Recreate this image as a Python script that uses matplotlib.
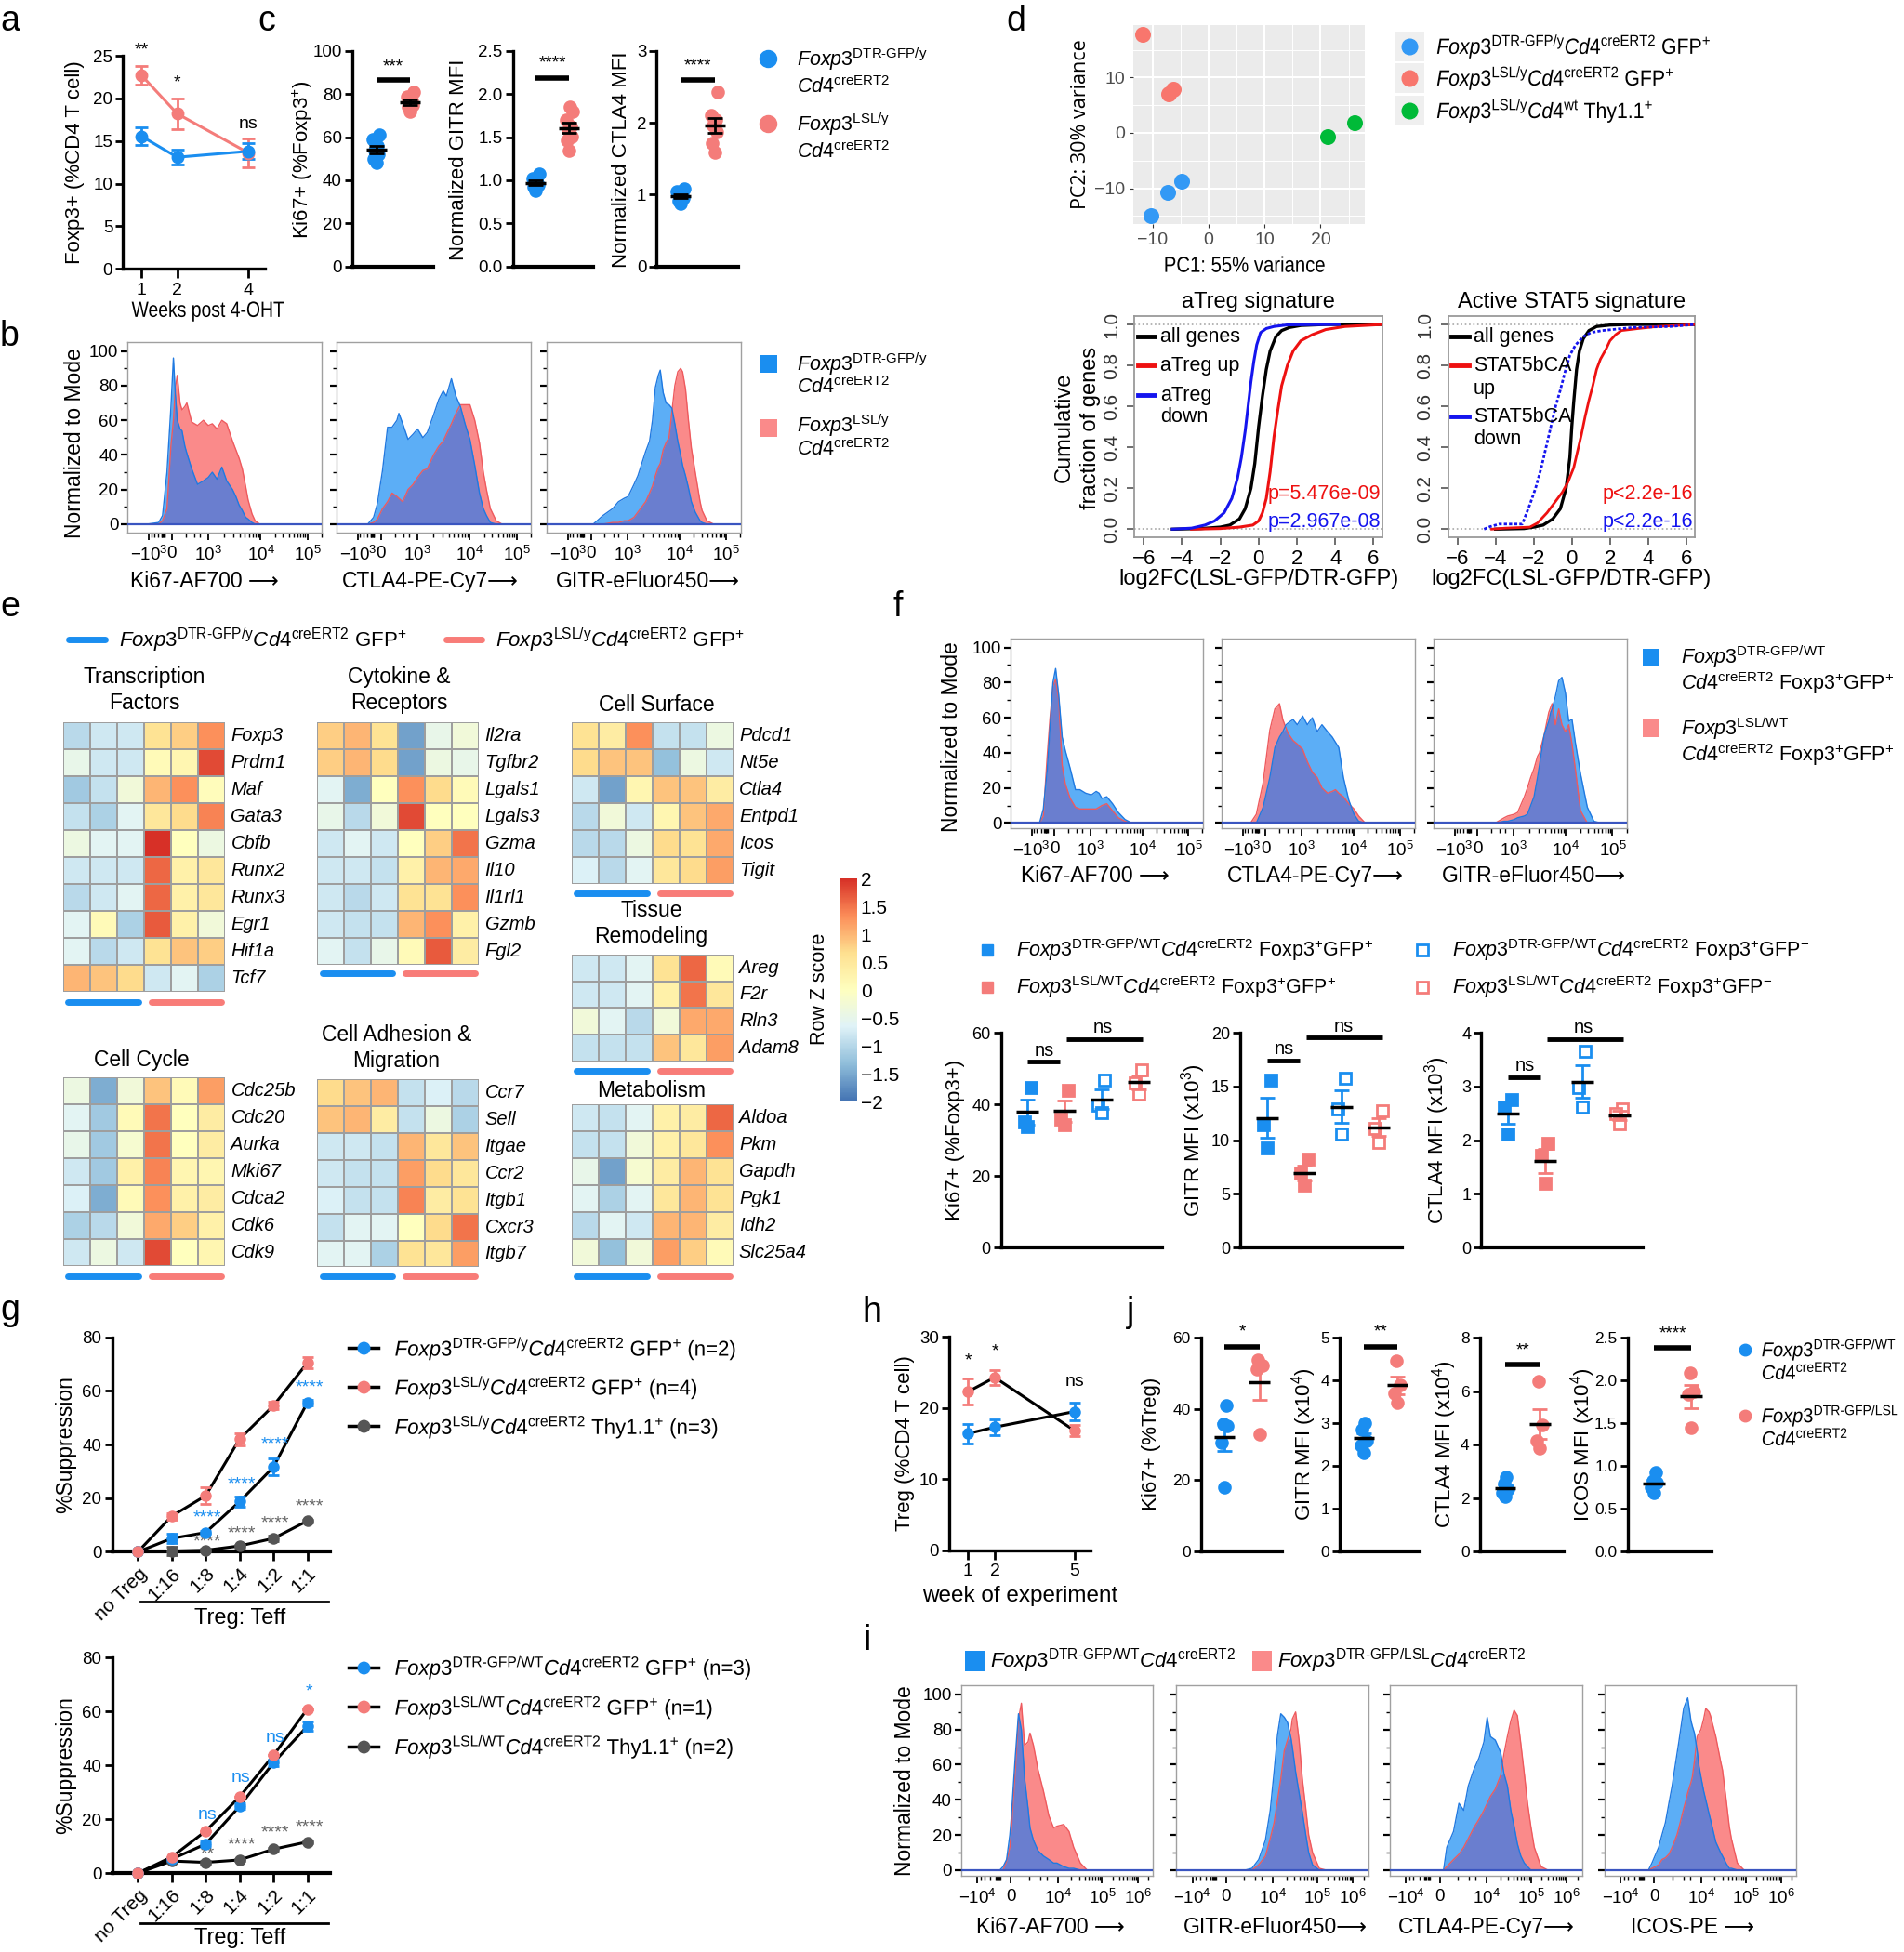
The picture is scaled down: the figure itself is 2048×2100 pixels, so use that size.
import numpy as np
import matplotlib
matplotlib.use('Agg')
import matplotlib.pyplot as plt
import matplotlib.patheffects as pe
from matplotlib import font_manager
from matplotlib.colors import LinearSegmentedColormap
from matplotlib.lines import Line2D
from matplotlib.patches import Rectangle
from matplotlib.transforms import Affine2D

_names = {f.name for f in font_manager.fontManager.ttflist}
SANS = 'Liberation Sans' if 'Liberation Sans' in _names else 'DejaVu Sans'
NARROW = 'Liberation Sans Narrow' if 'Liberation Sans Narrow' in _names else SANS
HAVE_NARROW = NARROW != SANS
plt.rcParams['font.family'] = [SANS, 'DejaVu Sans']
plt.rcParams['mathtext.fontset'] = 'custom'
plt.rcParams['mathtext.rm'] = NARROW
plt.rcParams['mathtext.it'] = NARROW + ':italic'
plt.rcParams['mathtext.bf'] = NARROW + ':bold'
plt.rcParams['mathtext.sf'] = NARROW
NF = [NARROW, 'DejaVu Sans']
SF = [SANS, 'DejaVu Sans']


class Squeeze(pe.AbstractPathEffect):
    """Horizontal condensing of a text path (used when no narrow font exists)."""

    def __init__(self, sx=0.85, pivot='left'):
        super().__init__()
        self.sx = sx
        self.pivot = pivot

    def draw_path(self, renderer, gc, tpath, affine, rgbFace=None):
        if len(tpath.vertices) == 0:
            return
        ext = tpath.get_extents()
        if self.pivot == 'center':
            px = (ext.x0 + ext.x1) / 2
        elif self.pivot == 'right':
            px = ext.x1
        else:
            px = 0.0
        t = Affine2D().translate(-px, 0).scale(self.sx, 1).translate(px, 0) + affine
        renderer.draw_path(gc, tpath, t, rgbFace)


def squeeze(sx, pivot):
    if HAVE_NARROW:
        return []
    return [Squeeze(sx, pivot)]


# ---------------- DATA ----------------
# a
A_WEEKS = [1, 2, 4]
A_LSL_MEAN = [22.7, 18.2, 13.6]
A_LSL_SEM = [1.05, 1.8, 1.7]
A_DTR_MEAN = [15.55, 13.1, 13.8]
A_DTR_SEM = [1.05, 0.9, 0.9]
A_SIG = ['**', '*', 'ns']
A_SIG_Y = [25.7, 21.8, 17.0]
# c
C_KI67_DTR = [61, 59, 56, 54, 52, 50, 48]
C_KI67_LSL = [81, 79, 77, 76, 75, 74, 72]
C_GITR_DTR = [1.07, 1.02, 0.99, 0.97, 0.95, 0.92, 0.88]
C_GITR_LSL = [1.85, 1.8, 1.7, 1.62, 1.58, 1.51, 1.46, 1.35]
C_CTLA4_DTR = [1.08, 1.05, 1.0, 0.98, 0.95, 0.92, 0.88]
C_CTLA4_LSL = [2.43, 2.11, 2.04, 1.96, 1.87, 1.72, 1.59]
# b histograms (x = position along the biexponential axis, 0..1)
B_KI67_X = [0.10, 0.16, 0.18, 0.203, 0.223, 0.236, 0.246, 0.256, 0.27, 0.28, 0.295, 0.305, 0.33, 0.36, 0.39, 0.415, 0.436, 0.46, 0.485, 0.51, 0.54, 0.557, 0.574, 0.59, 0.607, 0.62, 0.64, 0.656, 0.68, 0.72]
B_KI67_DTR = [0, 1, 5, 30, 67, 96, 75, 60, 55, 54, 45, 41, 32, 23, 25, 27, 30, 26, 33, 25, 20, 16, 11, 8, 4, 3, 1, 0, 0, 0]
B_KI67_LSL = [0, 0, 2, 9, 45, 60, 79, 86, 70, 66, 68, 70, 59, 57, 60, 57, 58, 55, 60, 58, 48, 43, 38, 32, 22, 14, 6, 2, 0, 0]
B_CTLA4_X = [0.12, 0.16, 0.19, 0.21, 0.236, 0.262, 0.285, 0.31, 0.32, 0.34, 0.367, 0.393, 0.416, 0.443, 0.466, 0.498, 0.525, 0.548, 0.564, 0.59, 0.613, 0.636, 0.66, 0.685, 0.71, 0.734, 0.754, 0.77, 0.79, 0.82, 0.85, 0.88]
B_CTLA4_DTR = [0, 0, 4, 12, 31, 56, 56, 60, 64, 58, 49, 52, 55, 50, 53, 63, 72, 77, 74, 84, 74, 68, 58, 49, 34, 18, 9, 5, 1, 0, 0, 0]
B_CTLA4_LSL = [0, 0, 1, 3, 9, 13, 18, 16, 15, 13, 20, 23, 27, 31, 32, 40, 45, 48, 52, 58, 64, 69, 69, 69, 60, 47, 30, 20, 9, 2, 0, 0]
B_GITR_X = [0.15, 0.24, 0.29, 0.34, 0.37, 0.40, 0.42, 0.45, 0.47, 0.49, 0.51, 0.53, 0.545, 0.56, 0.575, 0.585, 0.60, 0.615, 0.63, 0.645, 0.66, 0.675, 0.69, 0.70, 0.715, 0.73, 0.745, 0.765, 0.79, 0.80, 0.825, 0.86]
B_GITR_DTR = [0, 0, 5, 9, 13, 15, 16, 23, 28, 35, 42, 48, 60, 79, 86, 89, 76, 70, 69, 67, 58, 48, 40, 34, 28, 21, 13, 7, 2, 1, 0, 0]
B_GITR_LSL = [0, 0, 0, 1, 1, 2, 2, 4, 7, 10, 13, 18, 22, 28, 33, 35, 43, 47, 50, 65, 80, 88, 90, 88, 78, 60, 44, 30, 13, 8, 2, 0]
# d PCA
PCA_PC1 = [-11.8, -7.1, -6.3, -10.3, -7.3, -4.9, 21.3, 26.1]
PCA_PC2 = [17.7, 7.1, 7.8, -14.9, -10.7, -8.7, -0.7, 1.8]
PCA_GROUP = [1, 1, 1, 0, 0, 0, 2, 2]
# d cumulative distributions (log2FC, cumulative fraction)
CDF1_ALL_X = [-4.5, -3, -2, -1.5, -1, -0.7, -0.4, -0.2, 0, 0.2, 0.4, 0.6, 0.9, 1.2, 1.6, 2.2, 3.5, 6.5]
CDF1_ALL_F = [0, 0.003, 0.01, 0.02, 0.05, 0.1, 0.2, 0.32, 0.5, 0.65, 0.78, 0.87, 0.94, 0.97, 0.985, 0.995, 1.0, 1.0]
CDF1_UP_X = [-3.5, -2, -1, -0.3, 0, 0.2, 0.4, 0.6, 0.8, 1.0, 1.2, 1.5, 1.8, 2.2, 2.8, 3.5, 4.5, 6.5]
CDF1_UP_F = [0, 0.003, 0.01, 0.02, 0.04, 0.08, 0.15, 0.28, 0.45, 0.58, 0.7, 0.8, 0.87, 0.92, 0.95, 0.975, 0.99, 1.0]
CDF1_DN_X = [-4.5, -3.5, -2.8, -2.3, -1.8, -1.4, -1.1, -0.9, -0.7, -0.55, -0.4, -0.25, -0.1, 0.1, 0.4, 0.8, 1.5, 4.2]
CDF1_DN_F = [0, 0.005, 0.02, 0.04, 0.08, 0.15, 0.25, 0.35, 0.48, 0.6, 0.72, 0.82, 0.9, 0.96, 0.98, 0.99, 0.998, 1.0]
CDF2_ALL_X = [-4, -2.5, -2, -1.5, -1, -0.6, -0.3, -0.1, 0, 0.1, 0.25, 0.4, 0.6, 0.9, 1.3, 2, 3, 6.5]
CDF2_ALL_F = [0, 0.003, 0.01, 0.02, 0.05, 0.1, 0.2, 0.35, 0.5, 0.62, 0.78, 0.87, 0.93, 0.97, 0.99, 0.997, 1.0, 1.0]
CDF2_UP_X = [-4.2, -3.5, -2.2, -1.8, -1.3, -0.9, -0.5, -0.2, 0.1, 0.3, 0.5, 0.7, 0.9, 1.1, 1.3, 1.5, 1.8, 2.0, 2.3, 2.6, 3.5, 4.5, 6.5]
CDF2_UP_F = [0, 0.005, 0.01, 0.03, 0.08, 0.13, 0.18, 0.23, 0.3, 0.38, 0.46, 0.55, 0.63, 0.7, 0.78, 0.83, 0.88, 0.92, 0.95, 0.97, 0.98, 0.99, 1.0]
CDF2_DN_X = [-4.6, -4.3, -3.8, -2.6, -2.45, -2.2, -1.9, -1.6, -1.35, -1.1, -0.85, -0.6, -0.35, -0.1, 0.2, 0.6, 1.0, 1.6, 3.2, 5.2, 6.5]
CDF2_DN_F = [0, 0.012, 0.025, 0.025, 0.06, 0.12, 0.2, 0.3, 0.4, 0.5, 0.6, 0.68, 0.77, 0.85, 0.9, 0.94, 0.96, 0.97, 0.985, 0.99, 1.0]
# e heatmaps (row z-scores; 3 DTR-GFP then 3 LSL samples)
TF_GENES = ['Foxp3', 'Prdm1', 'Maf', 'Gata3', 'Cbfb', 'Runx2', 'Runx3', 'Egr1', 'Hif1a', 'Tcf7']
TF_Z = [[-1.0, -0.8, -0.8, 0.6, 0.8, 1.3], [-0.5, -0.8, -0.8, 0.1, 0.2, 1.8], [-1.2, -0.9, -0.3, 1.0, 1.3, 0.05],
        [-0.9, -1.1, -0.6, 0.5, 0.7, 1.4], [-0.4, -0.6, -0.6, 2.0, 0.0, -0.4], [-0.8, -0.8, -0.8, 1.6, 0.3, 0.5],
        [-1.0, -0.8, -0.6, 1.6, 0.3, 0.5], [-0.6, 0.1, -1.1, 1.7, 0.3, -0.3], [-0.6, -1.0, -0.8, 0.6, 0.9, 0.8],
        [1.0, 0.9, 0.7, -0.8, -0.6, -1.1]]
CK_GENES = ['Il2ra', 'Tgfbr2', 'Lgals1', 'Lgals3', 'Gzma', 'Il10', 'Il1rl1', 'Gzmb', 'Fgl2']
CK_Z = [[0.8, 1.0, 0.6, -1.6, -0.5, -0.3], [0.8, 1.0, 0.7, -1.6, -0.4, -0.5], [-0.6, -1.5, 0.0, 1.3, 0.7, 0.1],
        [-0.5, -1.0, -0.3, 1.8, 0.0, 0.0], [-0.8, -0.6, -0.8, 0.0, 0.8, 1.5], [-0.8, -0.8, -0.9, 0.3, 1.0, 1.1],
        [-0.8, -1.0, -0.8, 0.6, 0.6, 1.3], [-0.8, -0.9, -0.9, 1.0, 1.3, 0.3], [-0.6, -0.9, -0.5, 0.1, 1.7, 0.4]]
CS_GENES = ['Pdcd1', 'Nt5e', 'Ctla4', 'Entpd1', 'Icos', 'Tigit']
CS_Z = [[0.6, 0.4, 1.3, -0.9, -0.9, -0.4], [0.7, 0.9, 0.9, -1.3, -0.4, -0.8], [-0.8, -1.6, 0.2, 0.9, 0.9, 0.4],
        [-1.0, -0.3, -0.8, 0.2, 0.9, 1.1], [-1.0, -1.0, -0.4, 0.7, 0.6, 1.1], [-0.7, -1.0, -0.6, 0.5, 0.7, 1.2]]
TR_GENES = ['Areg', 'F2r', 'Rln3', 'Adam8']
TR_Z = [[-0.8, -0.8, -0.6, 0.6, 1.6, 0.1], [-0.8, -0.8, -0.6, 0.3, 1.5, 0.5], [-0.3, -0.6, -1.0, -0.3, 1.1, 1.1],
        [-0.9, -0.9, -0.9, 0.9, 0.5, 1.2]]
CC_GENES = ['Cdc25b', 'Cdc20', 'Aurka', 'Mki67', 'Cdca2', 'Cdk6', 'Cdk9']
CC_Z = [[-0.4, -1.5, -0.3, 0.9, 0.1, 1.2], [-0.6, -1.2, 0.1, 1.5, 0.0, 0.4], [-0.5, -1.2, -0.2, 1.5, 0.0, 0.4],
        [-0.8, -1.2, 0.3, 1.4, 0.2, 0.2], [-0.7, -1.5, 0.1, 1.3, 0.3, 0.4], [-1.1, -1.0, -0.3, 1.1, 0.8, 0.3],
        [-0.8, -0.4, -0.8, 1.8, 0.0, 0.2]]
CA_GENES = ['Ccr7', 'Sell', 'Itgae', 'Ccr2', 'Itgb1', 'Cxcr3', 'Itgb7']
CA_Z = [[0.7, 0.9, 1.0, -0.9, -0.7, -1.0], [0.9, 1.0, 0.4, -0.9, -0.4, -1.1], [-0.8, -0.8, -0.9, 1.0, 0.5, 0.9],
        [-0.8, -0.9, -0.9, 1.2, 0.7, 0.5], [-0.7, -0.9, -0.9, 1.4, 0.4, 0.6], [-0.9, -0.6, -0.6, 0.0, 0.7, 1.5],
        [-0.6, -0.6, -1.1, 0.6, 0.5, 1.2]]
ME_GENES = ['Aldoa', 'Pkm', 'Gapdh', 'Pgk1', 'Idh2', 'Slc25a4']
ME_Z = [[-0.8, -0.9, -0.6, 0.3, 0.4, 1.6], [-0.9, -0.9, -0.3, 0.3, 0.5, 1.3], [-0.5, -1.6, -0.2, 0.4, 1.0, 0.6],
        [-0.6, -1.1, -0.6, 0.5, 1.0, 0.6], [-1.0, -0.6, -0.8, 1.0, 1.0, 0.4], [-0.3, -1.3, -0.3, 1.2, 0.8, 0.1]]
Z_TICKS = [2, 1.5, 1, 0.5, 0, -0.5, -1, -1.5, -2]
# f histograms
F_KI67_X = [0.10, 0.15, 0.17, 0.19, 0.205, 0.22, 0.234, 0.25, 0.268, 0.285, 0.31, 0.337, 0.36, 0.39, 0.42, 0.445, 0.46, 0.475, 0.50, 0.53, 0.56, 0.595, 0.63, 0.68]
F_KI67_DTR = [0, 0, 8, 30, 55, 80, 88, 73, 49, 41, 31, 19, 19, 17, 16, 18, 17, 14, 15, 11, 6, 2, 0, 0]
F_KI67_LSL = [0, 0, 4, 38, 60, 78, 82, 70, 33, 22, 14, 9, 8, 8, 8, 8, 9, 10, 11, 7, 3, 1, 0, 0]
F_CTLA4_X = [0.12, 0.15, 0.18, 0.215, 0.25, 0.276, 0.30, 0.317, 0.334, 0.345, 0.37, 0.392, 0.42, 0.444, 0.47, 0.495, 0.52, 0.549, 0.573, 0.59, 0.607, 0.631, 0.659, 0.686, 0.71, 0.744, 0.78]
F_CTLA4_DTR = [0, 0, 0, 9, 26, 43, 49, 52, 56, 57, 59, 56, 61, 56, 60, 52, 56, 52, 49, 46, 43, 26, 13, 5, 1, 0, 0]
F_CTLA4_LSL = [0, 0, 5, 23, 53, 65, 68, 59, 54, 51, 47, 45, 42, 35, 29, 26, 20, 17, 18, 19, 17, 15, 11, 8, 4, 0, 0]
F_GITR_X = [0.28, 0.32, 0.366, 0.384, 0.418, 0.435, 0.47, 0.486, 0.503, 0.52, 0.538, 0.548, 0.572, 0.596, 0.606, 0.613, 0.63, 0.647, 0.664, 0.682, 0.699, 0.716, 0.733, 0.76, 0.795, 0.829, 0.863, 0.9]
F_GITR_DTR = [0, 0, 1, 1, 2, 3, 4, 5, 10, 15, 26, 33, 50, 58, 63, 65, 72, 81, 83, 74, 58, 59, 46, 28, 9, 1, 0, 0]
F_GITR_LSL = [0, 0, 3, 4, 5, 6, 15, 20, 26, 31, 38, 40, 50, 63, 66, 68, 56, 65, 56, 52, 56, 45, 31, 7, 0, 0, 0, 0]
# f dot plots (DTR GFP+, LSL GFP+, DTR GFP-, LSL GFP-)
F_KI67 = [[44.7, 35.1, 33.8], [44.0, 36.0, 34.3], [46.8, 39.9, 37.7], [49.7, 46.0, 42.9]]
F_GITR = [[15.6, 11.4, 9.25], [8.2, 6.9, 5.8], [15.8, 12.9, 10.6], [12.7, 11.1, 9.8]]
F_CTLA4 = [[2.76, 2.62, 2.12], [1.95, 1.72, 1.19], [3.66, 2.99, 2.62], [2.59, 2.50, 2.30]]
# g suppression
G_RATIOS = ['no Treg', '1:16', '1:8', '1:4', '1:2', '1:1']
G1_DTR = [0, 5.0, 7.2, 18.7, 31.6, 55.6]
G1_DTR_ERR = [0, 1.8, 0.6, 1.9, 3.2, 1.2]
G1_LSL = [0, 13.3, 20.9, 42.0, 54.5, 70.4]
G1_LSL_ERR = [0, 1.2, 3.0, 2.3, 1.3, 2.0]
G1_THY = [0, 0.3, 0.6, 2.2, 5.0, 11.5]
G1_THY_ERR = [0, 1.5, 0.5, 0.5, 1.0, 0.6]
G1_SIG_DTR_Y = [None, None, 12.8, 25.2, 40.1, 61.0]
G1_SIG_THY_Y = [None, None, 3.7, 6.9, 10.5, 16.8]
G1_SIG_DTR = ['', '', '****', '****', '****', '****']
G1_SIG_THY = ['', '', '****', '****', '****', '****']
G2_DTR = [0, 5.2, 10.8, 24.8, 41.0, 54.5]
G2_DTR_ERR = [0, 0.5, 1.0, 1.0, 1.3, 1.8]
G2_LSL = [0, 6.0, 15.6, 28.3, 43.7, 60.9]
G2_LSL_ERR = [0, 0, 0, 0, 0, 0]
G2_THY = [0, 4.5, 4.0, 4.9, 8.9, 11.6]
G2_THY_ERR = [0, 0.4, 0.4, 0.4, 0.5, 0.5]
G2_SIG_DTR_Y = [None, None, 21.6, 35.5, 50.1, 67.2]
G2_SIG_THY_Y = [None, None, 6.8, 10.5, 14.8, 16.9]
G2_SIG_DTR = ['', '', 'ns', 'ns', 'ns', '*']
G2_SIG_THY = ['', '', '**', '****', '****', '****']
# h
H_WEEKS = [1, 2, 5]
H_LSL = [22.3, 24.3, 16.8]
H_LSL_ERR = [1.85, 1.0, 0.8]
H_DTR = [16.4, 17.3, 19.5]
H_DTR_ERR = [1.4, 1.1, 1.3]
H_SIG = ['*', '*', 'ns']
H_SIG_Y = [26.7, 27.9, 23.7]
# j
J_KI67 = [[40.9, 35.9, 35.3, 30.5, 18.1], [53.9, 52.2, 51.3, 32.9]]
J_GITR = [[3.01, 2.85, 2.59, 2.49, 2.30], [4.46, 3.90, 3.70, 3.49]]
J_CTLA4 = [[2.78, 2.53, 2.35, 2.18, 2.06], [6.38, 4.73, 4.13, 3.86]]
J_ICOS = [[0.93, 0.83, 0.80, 0.75, 0.68], [2.09, 1.87, 1.84, 1.45]]
J_SIG = ['*', '**', '**', '****']
# i histograms
I_KI67_X = [0.15, 0.203, 0.22, 0.238, 0.255, 0.262, 0.283, 0.30, 0.315, 0.332, 0.35, 0.36, 0.378, 0.402, 0.43, 0.458, 0.483, 0.50, 0.535, 0.563, 0.587, 0.622, 0.657, 0.70]
I_KI67_DTR = [0, 0, 2, 6, 20, 29, 64, 89, 80, 52, 35, 24, 17, 11, 8, 6, 4, 4, 2, 1, 1, 0, 0, 0]
I_KI67_LSL = [0, 0, 0, 5, 13, 22, 56, 86, 95, 71, 73, 78, 71, 57, 45, 31, 24, 25, 26, 22, 13, 4, 0, 0]
I_GITR_X = [0.30, 0.36, 0.395, 0.43, 0.465, 0.49, 0.51, 0.528, 0.545, 0.563, 0.58, 0.598, 0.605, 0.622, 0.64, 0.657, 0.675, 0.69, 0.71, 0.745, 0.78]
I_GITR_DTR = [0, 0, 1, 6, 17, 34, 56, 77, 89, 87, 84, 75, 70, 56, 44, 33, 20, 10, 3, 0, 0]
I_GITR_LSL = [0, 0, 0, 3, 8, 18, 27, 40, 52, 68, 74, 80, 86, 90, 74, 52, 35, 20, 10, 1, 0]
I_CTLA4_X = [0.24, 0.28, 0.297, 0.332, 0.36, 0.385, 0.409, 0.437, 0.465, 0.49, 0.507, 0.524, 0.549, 0.577, 0.594, 0.612, 0.63, 0.647, 0.664, 0.682, 0.70, 0.717, 0.734, 0.752, 0.787, 0.822, 0.86]
I_CTLA4_DTR = [0, 0, 13, 22, 38, 34, 48, 57, 64, 73, 87, 76, 74, 67, 55, 48, 34, 25, 15, 8, 4, 2, 0, 0, 0, 0, 0]
I_CTLA4_LSL = [0, 0, 2, 6, 9, 13, 18, 24, 29, 34, 38, 42, 46, 54, 66, 76, 85, 91, 88, 72, 55, 38, 25, 13, 2, 0, 0]
I_ICOS_X = [0.19, 0.23, 0.248, 0.283, 0.30, 0.318, 0.336, 0.353, 0.378, 0.388, 0.413, 0.423, 0.434, 0.451, 0.458, 0.469, 0.483, 0.493, 0.503, 0.517, 0.528, 0.545, 0.552, 0.58, 0.605, 0.615, 0.633, 0.65, 0.661, 0.692, 0.727, 0.76]
I_ICOS_DTR = [0, 0, 4, 13, 20, 27, 38, 48, 66, 73, 92, 95, 98, 85, 82, 78, 68, 59, 53, 45, 40, 32, 29, 16, 10, 8, 4, 1, 1, 0, 0, 0]
I_ICOS_LSL = [0, 0, 1, 3, 6, 7, 9, 13, 20, 24, 35, 39, 44, 50, 53, 62, 76, 78, 80, 86, 92, 90, 88, 76, 62, 57, 41, 25, 18, 4, 0, 0]
HIST_TICKS_3 = ['$-10^3$', '0', '$10^3$', '$10^4$', '$10^5$']
HIST_TICKS_4 = ['$-10^4$', '0', '$10^4$', '$10^5$', '$10^6$']

# ---------------- STYLE ----------------
BLUE = '#1A8EF0'
RED = '#F47C7A'
GREYM = '#555555'
H_BLUE = '#5CAEF6'
H_RED = '#FA8A8A'
H_OVER = '#6A7ECF'
E_BLUE = '#2079E0'
E_RED = '#EE5A5E'
CMAP = LinearSegmentedColormap.from_list('ph', ['#4575B4', '#91BFDB', '#E0F3F8', '#FFFFBF', '#FEE090', '#FC8D59', '#D73027'])

W, H = 2048, 2100
S = W / 1529.0
fig = plt.figure(figsize=(W / 100, H / 100), dpi=100)


def fx(x):
    return x * S / W


def fy(y):
    return 1 - y * S / H


def AX(x0, y0, x1, y1):
    return fig.add_axes([fx(x0), fy(y1), fx(x1) - fx(x0), fy(y0) - fy(y1)])


def T(x, y, s, sq=None, **kw):
    kw.setdefault('family', NF)
    kw.setdefault('va', 'center')
    t = fig.text(fx(x), fy(y), s, **kw)
    if sq is not None:
        t.set_path_effects(squeeze(sq, kw.get('ha', 'left')))
    return t


def L(xs, ys, **kw):
    fig.add_artist(Line2D([fx(v) for v in xs], [fy(v) for v in ys], transform=fig.transFigure, **kw))


def RECT(x0, y0, x1, y1, **kw):
    fig.add_artist(Rectangle((fx(x0), fy(y1)), fx(x1) - fx(x0), fy(y0) - fy(y1), transform=fig.transFigure, **kw))


def MK(x, y, **kw):
    fig.add_artist(Line2D([fx(x)], [fy(y)], transform=fig.transFigure, **kw))


def letter(x, y, s):
    fig.text(fx(x), fy(y), s, fontsize=27, family=SF, va='baseline', ha='left')


def gp(ax, ylim, yticks, ylabels=None, xl=None, lsize=13.5):
    ax.set_ylim(*ylim)
    if xl is not None:
        ax.set_xlim(*xl)
    ax.spines['top'].set_visible(False)
    ax.spines['right'].set_visible(False)
    ax.spines['left'].set_linewidth(2.4)
    ax.spines['bottom'].set_linewidth(3.0)
    ax.set_yticks(yticks)
    if ylabels is not None:
        ax.set_yticklabels(ylabels)
    ax.tick_params(axis='y', length=6, width=2, labelsize=lsize, pad=2, labelfontfamily=NARROW)
    ax.patch.set_visible(False)


def dots(ax, xpos, vals, color, marker='o', ms=8, filled=True, spread=0.09, mw=0.28, ecol=None):
    v = np.asarray(vals, dtype=float)
    order = np.argsort(v)
    pat = [0, -1, 1, -0.5, 0.5, -1.4, 1.4, 0.2]
    offs = np.zeros(len(v))
    for k, i in enumerate(order):
        offs[i] = pat[k % len(pat)] * spread
    mfc = color if filled else 'white'
    ax.plot(xpos + offs, v, ls='none', marker=marker, ms=ms, mfc=mfc, mec=color, mew=2, clip_on=False, zorder=3)
    m = v.mean()
    se = v.std(ddof=1) / np.sqrt(len(v))
    ax.errorbar([xpos], [m], yerr=[se], fmt='none', ecolor=ecol or color, elinewidth=2, capsize=6, capthick=2, zorder=4)
    ax.plot([xpos - mw, xpos + mw], [m, m], color='black', lw=2.5, zorder=5, solid_capstyle='butt')


def sigbar(ax, x0, x1, y, ty, s, lw=4, fs=13.5):
    ax.plot([x0, x1], [y, y], color='black', lw=lw, clip_on=False, solid_capstyle='butt')
    ax.text((x0 + x1) / 2, ty, s, ha='center', va='center', fontsize=fs, family=NF)


def hist(rect, ylim, xs, blue, red, labels, ticks, show_lab):
    ax = AX(*rect)
    x = np.asarray(xs, dtype=float)
    b = np.asarray(blue, dtype=float)
    r = np.asarray(red, dtype=float)
    ax.fill_between(x, 0, r, color=H_RED, lw=0, zorder=1)
    ax.fill_between(x, 0, b, color=H_BLUE, lw=0, zorder=2)
    ax.fill_between(x, 0, np.minimum(b, r), color=H_OVER, lw=0, zorder=3)
    ax.plot(x, r, color=E_RED, lw=1.0, zorder=4)
    ax.plot(x, b, color=E_BLUE, lw=1.0, zorder=4)
    ax.axhline(0, color='#3A55C0', lw=1.6, zorder=5)
    ax.set_xlim(0, 1)
    ax.set_ylim(*ylim)
    for s in ax.spines.values():
        s.set_color('#A0A0A0')
        s.set_linewidth(1.0)
    ax.set_xticks(ticks)
    ax.set_xticklabels(labels)
    minor = []
    for k in (2, 3):
        p0, p1 = ticks[k], ticks[k + 1]
        minor += [p0 + np.log10(m) * (p1 - p0) for m in range(2, 10)]
    d = ticks[4] - ticks[3]
    minor += [ticks[4] + np.log10(m) * d for m in range(2, 10) if ticks[4] + np.log10(m) * d < 1]
    d1 = ticks[2] - ticks[1]
    minor += [ticks[1] + np.log10(m) * d1 * 0.8 for m in (3, 6, 9)]
    d0 = ticks[1] - ticks[0]
    minor += [ticks[1] - np.log10(m) * d0 for m in (2, 4, 6, 8)]
    minor += [ticks[1] - d0 * 0.45 + d0 * 0.03 * q for q in range(5)]
    ax.set_xticks(minor, minor=True)
    ax.tick_params(axis='x', which='major', length=6, width=1.3, labelsize=13.5, pad=4, labelfontfamily=NARROW)
    ax.tick_params(axis='x', which='minor', length=3.5, width=1)
    ax.set_yticks([0, 20, 40, 60, 80, 100])
    ax.set_yticks(list(range(10, 100, 20)), minor=True)
    ax.tick_params(axis='y', which='major', length=5, width=1.6, labelsize=13.5, pad=2, labelfontfamily=NARROW)
    ax.tick_params(axis='y', which='minor', length=3, width=1)
    if not show_lab:
        ax.set_yticklabels([])
    return ax


def m_dtr(sup):
    return r'$\mathit{Foxp3}^{\text{' + sup + r'}}$'


CD4 = r'$\mathit{Cd4}^{\text{creERT2}}$'
CD4WT = r'$\mathit{Cd4}^{\text{wt}}$'

# ---------------- PANEL a ----------------
letter(0, 25, 'a')
ax = AX(98.8, 44.8, 212.5, 216)
gp(ax, (0, 25), [0, 5, 10, 15, 20, 25], xl=(0.48, 4.45))
ax.spines['bottom'].set_linewidth(2.4)
ax.set_xticks(A_WEEKS)
ax.tick_params(axis='x', length=7, width=2, labelsize=14, labelfontfamily=NARROW)
ax.plot(A_WEEKS, A_LSL_MEAN, color=RED, lw=2.2, clip_on=False)
ax.plot(A_WEEKS, A_DTR_MEAN, color=BLUE, lw=2.2, clip_on=False)
ax.errorbar(A_WEEKS, A_LSL_MEAN, yerr=A_LSL_SEM, fmt='o', color=RED, ms=9, elinewidth=2, capsize=5, capthick=2, clip_on=False)
ax.errorbar(A_WEEKS, A_DTR_MEAN, yerr=A_DTR_SEM, fmt='o', color=BLUE, ms=9, elinewidth=2, capsize=5, capthick=2, clip_on=False)
for w, s, y in zip(A_WEEKS, A_SIG, A_SIG_Y):
    ax.text(w, y, s, ha='center', va='center', fontsize=14, family=NF)
T(60, 130, 'Foxp3+ (%CD4 T cell)', rotation=90, ha='center', fontsize=16, family=SF)
T(167, 250, 'Weeks post 4-OHT', ha='center', fontsize=17, sq=0.82)

# ---------------- PANEL c ----------------
letter(207, 25, 'c')
c_specs = [
    ((283, 41, 348, 214), (0, 100), [0, 20, 40, 60, 80, 100], None, C_KI67_DTR, C_KI67_LSL, 86.6, 92.8, '***', 243, r'Ki67+ (%Foxp3$^{+}$)', (0.30, 2.68)),
    ((412, 41, 476, 214), (0, 2.5), [0, 0.5, 1.0, 1.5, 2.0, 2.5], ['0.0', '0.5', '1.0', '1.5', '2.0', '2.5'], C_GITR_DTR, C_GITR_LSL, 2.19, 2.36, '****', 368.7, 'Normalized GITR MFI', (0.33, 2.70)),
    ((527.4, 41, 592.5, 214), (0, 3), [0, 1, 2, 3], None, C_CTLA4_DTR, C_CTLA4_LSL, 2.6, 2.79, '****', 499, 'Normalized CTLA4 MFI', (0.30, 2.68)),
]
for rect, yl, yt, ytl, dv, lv, sy, ty, ss, labx, lab, xl in c_specs:
    ax = AX(*rect)
    gp(ax, yl, yt, ytl, xl=xl)
    ax.set_xticks([])
    dots(ax, 1, dv, BLUE, ms=8.5, spread=0.07, mw=0.3, ecol='black')
    dots(ax, 2, lv, RED, ms=8.5, spread=0.07, mw=0.3, ecol='black')
    sigbar(ax, 1, 2, sy, ty, ss)
    T(labx, 128, lab, rotation=90, ha='center', fontsize=16, family=SF)
MK(617, 47.3, marker='o', ms=13, color=BLUE, ls='none')
MK(617, 99.5, marker='o', ms=13, color=RED, ls='none')
T(640, 47.3, m_dtr('DTR-GFP/y'), fontsize=15.5)
T(640, 69.7, CD4, fontsize=15.5)
T(640, 99.5, m_dtr('LSL/y'), fontsize=15.5)
T(640, 122, CD4, fontsize=15.5)

# ---------------- PANEL b ----------------
letter(0, 278, 'b')
TK = [0.11, 0.228, 0.415, 0.685, 0.925]
b_rects = [(102.4, 275, 258.6, 428), (270.3, 275, 426.6, 428), (438.9, 275, 595, 428)]
b_data = [(B_KI67_X, B_KI67_DTR, B_KI67_LSL), (B_CTLA4_X, B_CTLA4_DTR, B_CTLA4_LSL), (B_GITR_X, B_GITR_DTR, B_GITR_LSL)]
b_xlab = ['Ki67-AF700 \u27F6', 'CTLA4-PE-Cy7\u27F6', 'GITR-eFluor450\u27F6']
b_xlab_x = [164, 345.6, 520]
for k in range(3):
    hist(b_rects[k], (-5, 105), b_data[k][0], b_data[k][1], b_data[k][2], HIST_TICKS_3, TK, k == 0)
    T(b_xlab_x[k], 466.7, b_xlab[k], ha='center', fontsize=16.5)
T(60, 356, 'Normalized to Mode', rotation=90, ha='center', fontsize=16.5, family=SF)
RECT(611, 285, 624, 299.5, color=BLUE, lw=0)
RECT(611, 336.5, 624, 351, color=H_RED, lw=0)
T(640, 292.4, m_dtr('DTR-GFP/y'), fontsize=15.5)
T(640, 311, CD4, fontsize=15.5)
T(640, 342, m_dtr('LSL/y'), fontsize=15.5)
T(640, 361, CD4, fontsize=15.5)

# ---------------- PANEL d ----------------
letter(808, 25, 'd')
PCA_COLS = ['#3399F5', '#F8766D', '#00BA38']
ax = AX(910, 20.4, 1096, 179.7)
ax.set_facecolor('#EBEBEB')
ax.set_xlim(-13.5, 27.9)
ax.set_ylim(-16.4, 19.4)
ax.set_xticks([-10, 0, 10, 20])
ax.set_yticks([-10, 0, 10])
ax.set_xticks([-5, 5, 15, 25], minor=True)
ax.set_yticks([-15, -5, 5, 15], minor=True)
ax.grid(True, which='major', color='white', lw=1.5)
ax.grid(True, which='minor', color='white', lw=0.7)
ax.set_axisbelow(True)
for s in ax.spines.values():
    s.set_visible(False)
ax.tick_params(which='major', length=3, color='#333333', labelsize=14, labelcolor='#4D4D4D', labelfontfamily=NARROW)
ax.tick_params(which='minor', length=0)
for g in range(3):
    xs = [p for p, q in zip(PCA_PC1, PCA_GROUP) if q == g]
    ys = [p for p, q in zip(PCA_PC2, PCA_GROUP) if q == g]
    ax.scatter(xs, ys, s=150, color=PCA_COLS[g], zorder=3, lw=0)
T(868, 100, 'PC2: 30% variance', rotation=90, ha='center', fontsize=15.5, family=['Open Sans', SANS])
T(999.5, 214, 'PC1: 55% variance', ha='center', fontsize=17, sq=0.86)
d_leg = [m_dtr('DTR-GFP/y') + CD4 + ' GFP$^{+}$', m_dtr('LSL/y') + CD4 + ' GFP$^{+}$', m_dtr('LSL/y') + CD4WT + ' Thy1.1$^{+}$']
for k, yy in enumerate([37.3, 62.7, 88.9]):
    RECT(1119.5, yy - 12, 1143.5, yy + 12, color='#EFEFEF', lw=0)
    MK(1131.5, yy, marker='o', ms=12, color=PCA_COLS[k], ls='none')
    T(1153.6, yy, d_leg[k], fontsize=17, sq=0.9)


# CDF plots
def cdf_axes(rect, title, curves, leg, pvals):
    ax = AX(*rect)
    ax.set_xlim(-6.48, 6.45)
    ax.set_ylim(-0.04, 1.04)
    for s in ax.spines.values():
        s.set_color('#9A9A9A')
        s.set_linewidth(1.3)
    ax.axhline(0, color='#A8A8A8', ls=':', lw=1.2)
    ax.axhline(1, color='#A8A8A8', ls=':', lw=1.2)
    for xs, fs, col, ls, lw in curves:
        ax.plot(xs, fs, color=col, lw=lw, ls=ls, zorder=3)
    ax.set_xticks([-6, -4, -2, 0, 2, 4, 6])
    ax.set_xticklabels(['\u22126', '\u22124', '\u22122', '0', '2', '4', '6'])
    ax.set_yticks([0, 0.2, 0.4, 0.6, 0.8, 1.0])
    ax.set_yticklabels(['0.0', '0.2', '0.4', '0.6', '0.8', '1.0'], rotation=90, va='center')
    ax.tick_params(axis='x', length=6, width=1.2, color='#555555', labelsize=16, labelfontfamily=NARROW, pad=3)
    ax.tick_params(axis='y', length=6, width=1.2, color='#555555', labelsize=15, labelfontfamily=SANS, pad=5, labelcolor='#333333')
    for (txt, yy, col) in leg:
        if col is not None:
            ax.plot([-6.3, -5.4], [yy, yy], color=col, lw=3.5)
        ax.text(-5.15, yy, txt, va='center', fontsize=15.5, family=NF)
    for (txt, yy, col) in pvals:
        ax.text(6.35, yy, txt, ha='right', va='center', fontsize=15.5, color=col, family=NF)
    T((rect[0] + rect[2]) / 2, 242.6, title, ha='center', fontsize=17)
    T((rect[0] + rect[2]) / 2, 465, 'log2FC(LSL-GFP/DTR-GFP)', ha='center', fontsize=17)
    return ax


cdf_axes((911, 254, 1110, 431.6), 'aTreg signature',
         [(CDF1_ALL_X, CDF1_ALL_F, 'black', '-', 2.4), (CDF1_UP_X, CDF1_UP_F, '#EE1111', '-', 2.2), (CDF1_DN_X, CDF1_DN_F, '#1515EE', '-', 2.2)],
         [('all genes', 0.94, 'black'), ('aTreg up', 0.80, '#EE1111'), ('aTreg', 0.655, '#1515EE'), ('down', 0.55, None)],
         [('p=5.476e-09', 0.17, '#EE1111'), ('p=2.967e-08', 0.035, '#1515EE')])
cdf_axes((1163, 254, 1361, 431.6), 'Active STAT5 signature',
         [(CDF2_ALL_X, CDF2_ALL_F, 'black', '-', 2.4), (CDF2_UP_X, CDF2_UP_F, '#EE1111', '-', 2.0), (CDF2_DN_X, CDF2_DN_F, '#1515EE', (0, (1.2, 0.8)), 2.0)],
         [('all genes', 0.94, 'black'), ('STAT5bCA', 0.80, '#EE1111'), ('up', 0.685, None), ('STAT5bCA', 0.55, '#1515EE'), ('down', 0.44, None)],
         [('p<2.2e-16', 0.17, '#EE1111'), ('p<2.2e-16', 0.035, '#1515EE')])
T(855, 343.5, 'Cumulative', rotation=90, ha='center', fontsize=17, family=SF)
T(876, 343.5, 'fraction of genes', rotation=90, ha='center', fontsize=17, family=SF)

# ---------------- PANEL e ----------------
letter(0, 495, 'e')
L([55, 84], [514, 514], color=BLUE, lw=5, solid_capstyle='round')
T(95.5, 514, m_dtr('DTR-GFP/y') + CD4 + ' GFP$^{+}$', fontsize=16)
L([358.5, 387], [514, 514], color='#F87C78', lw=5, solid_capstyle='round')
T(398, 514, m_dtr('LSL/y') + CD4 + ' GFP$^{+}$', fontsize=16)

heat_specs = [
    ((50.8, 580, 180.7, 796.5), TF_Z, TF_GENES, 804.6, ['Transcription', 'Factors'], [543.8, 565], 116),
    ((254.8, 580, 384.7, 774.8), CK_Z, CK_GENES, 781.9, ['Cytokine &', 'Receptors'], [543.8, 565], 320.5),
    ((458.8, 580, 588.7, 709.9), CS_Z, CS_GENES, 717.3, ['Cell Surface'], [566.2], 527),
    ((458.8, 766.6, 588.7, 852.5), TR_Z, TR_GENES, 860.4, ['Tissue', 'Remodeling'], [731.5, 752.2], 523),
    ((50.8, 865.6, 180.7, 1016.7), CC_Z, CC_GENES, 1025.4, ['Cell Cycle'], [851.2], 114),
    ((254.8, 866.9, 384.7, 1017.9), CA_Z, CA_GENES, 1025.4, ['Cell Adhesion &', 'Migration'], [831.3, 852.5], 318.5),
    ((458.8, 887.3, 588.7, 1016.7), ME_Z, ME_GENES, 1025.4, ['Metabolism'], [876.1], 522.8),
]
for rect, Z, genes, bary, titles, ty, tx in heat_specs:
    ax = AX(*rect)
    Zarr = np.asarray(Z)
    ax.pcolormesh(Zarr, cmap=CMAP, vmin=-2, vmax=2, edgecolors='#9E9E9E', linewidth=1.3)
    ax.set_xlim(0, 6)
    ax.set_ylim(len(genes), 0)
    ax.axis('off')
    for i, gname in enumerate(genes):
        ax.text(6.22, i + 0.5, gname, style='italic', va='center', ha='left', fontsize=14.5, family=NF)
    cx = (rect[0] + rect[2]) / 2
    L([rect[0] + 4, cx - 4.5], [bary, bary], color=BLUE, lw=5, solid_capstyle='round')
    L([cx + 6, rect[2] - 3], [bary, bary], color='#F87C78', lw=5, solid_capstyle='round')
    for t, yy in zip(titles, ty):
        T(tx, yy, t, ha='center', fontsize=16.5)

axc = AX(675, 705.6, 688, 884.8)
axc.imshow(np.linspace(-2, 2, 100)[:, None], aspect='auto', cmap=CMAP, origin='lower', extent=[0, 1, -2, 2], vmin=-2, vmax=2)
axc.set_xticks([])
axc.yaxis.tick_right()
axc.set_yticks(Z_TICKS)
axc.set_yticklabels([('\u2212' if v < 0 else '') + ('%g' % abs(v)) for v in Z_TICKS])
axc.tick_params(axis='y', length=0, labelsize=15, pad=3)
for s in axc.spines.values():
    s.set_visible(False)
T(658, 794, 'Row Z score', rotation=90, ha='center', fontsize=15.5, family=SF)

# ---------------- PANEL f ----------------
letter(717, 495, 'f')
f_rects = [(811.6, 513, 966, 665), (981, 513, 1136, 665), (1151, 513, 1306.6, 665)]
f_data = [(F_KI67_X, F_KI67_DTR, F_KI67_LSL), (F_CTLA4_X, F_CTLA4_DTR, F_CTLA4_LSL), (F_GITR_X, F_GITR_DTR, F_GITR_LSL)]
f_xlab = ['Ki67-AF700 \u27F6', 'CTLA4-PE-Cy7\u27F6', 'GITR-eFluor450\u27F6']
f_xlab_x = [879.5, 1056, 1232]
for k in range(3):
    hist(f_rects[k], (-2.8, 105), f_data[k][0], f_data[k][1], f_data[k][2], HIST_TICKS_3, TK, k == 0)
    T(f_xlab_x[k], 704, f_xlab[k], ha='center', fontsize=16.5)
T(764.5, 592, 'Normalized to Mode', rotation=90, ha='center', fontsize=16.5, family=SF)
RECT(1319.5, 521, 1333, 535, color=BLUE, lw=0)
RECT(1319.5, 578, 1333, 592, color=H_RED, lw=0)
T(1350, 527.6, m_dtr('DTR-GFP/WT'), fontsize=15.5)
T(1350, 548.8, CD4 + ' Foxp3$^{+}$GFP$^{+}$', fontsize=15.5)
T(1350, 584.9, m_dtr('LSL/WT'), fontsize=15.5)
T(1350, 606, CD4 + ' Foxp3$^{+}$GFP$^{+}$', fontsize=15.5)

# f dot plots legend
MK(793, 762.8, marker='s', ms=9, color=BLUE, ls='none')
MK(793, 792.7, marker='s', ms=9, color=RED, ls='none')
MK(1142, 762.8, marker='s', ms=9, mfc='white', mec=BLUE, mew=2, ls='none')
MK(1142, 792.7, marker='s', ms=9, mfc='white', mec=RED, mew=2, ls='none')
T(816, 762.8, m_dtr('DTR-GFP/WT') + CD4 + ' Foxp3$^{+}$GFP$^{+}$', fontsize=15.5)
T(816, 792.7, m_dtr('LSL/WT') + CD4 + ' Foxp3$^{+}$GFP$^{+}$', fontsize=15.5)
T(1165.8, 762.8, m_dtr('DTR-GFP/WT') + CD4 + ' Foxp3$^{+}$GFP$^{-}$', fontsize=15.5)
T(1165.8, 792.7, m_dtr('LSL/WT') + CD4 + ' Foxp3$^{+}$GFP$^{-}$', fontsize=15.5)

fd_specs = [
    ((803.7, 829.6, 933, 1002), (0, 60), [0, 20, 40, 60], F_KI67, (51.9, 55.1, 58.3, 61.6), 767, 'Ki67+ (%Foxp3+)'),
    ((996, 829.6, 1126, 1002), (0, 20), [0, 5, 10, 15, 20], F_GITR, (17.4, 18.5, 19.57, 20.6), 958.5, 'GITR MFI (x10$^{3}$)'),
    ((1189.5, 829.6, 1319, 1002), (0, 4), [0, 1, 2, 3, 4], F_CTLA4, (3.17, 3.38, 3.89, 4.1), 1154, 'CTLA4 MFI (x10$^{3}$)'),
]
for rect, yl, yt, data, sg, labx, lab in fd_specs:
    ax = AX(*rect)
    gp(ax, yl, yt, xl=(0.28, 4.63), lsize=13)
    ax.set_xticks([])
    styles = [(BLUE, True), (RED, True), (BLUE, False), (RED, False)]
    for gi, (col, fill) in enumerate(styles):
        dots(ax, gi + 1, data[gi], col, marker='s', ms=8, filled=fill, spread=0.09, mw=0.3)
    ax.plot([1, 1.88], [sg[0], sg[0]], color='black', lw=3.5, clip_on=False, solid_capstyle='butt')
    ax.text(1.45, sg[1], 'ns', ha='center', va='center', fontsize=14.5, family=NF)
    ax.plot([2.05, 4.1], [sg[2], sg[2]], color='black', lw=3.5, clip_on=False, solid_capstyle='butt')
    ax.text(3.05, sg[3], 'ns', ha='center', va='center', fontsize=14.5, family=NF)
    T(labx, 916, lab, rotation=90, ha='center', fontsize=16, family=SF)

# ---------------- PANEL g ----------------
letter(0, 1060, 'g')
g_specs = [
    ((90, 1074, 264.8, 1246.4), G1_DTR, G1_DTR_ERR, G1_LSL, G1_LSL_ERR, G1_THY, G1_THY_ERR,
     G1_SIG_DTR, G1_SIG_DTR_Y, G1_SIG_THY, G1_SIG_THY_Y, 1286.6, 1300, [1082.7, 1114, 1145.6], 'y', ['(n=2)', '(n=4)', '(n=3)']),
    ((90, 1331.3, 264.8, 1504.5), G2_DTR, G2_DTR_ERR, G2_LSL, G2_LSL_ERR, G2_THY, G2_THY_ERR,
     G2_SIG_DTR, G2_SIG_DTR_Y, G2_SIG_THY, G2_SIG_THY_Y, 1545, 1556.7, [1339, 1371, 1402.6], 'WT', ['(n=3)', '(n=1)', '(n=2)']),
]
for (rect, dv, de, lv, le, tv, te, sd, sdy, st, sty, uly, tly, legy, gen, ns) in g_specs:
    ax = AX(*rect)
    gp(ax, (0, 80), [0, 20, 40, 60, 80], xl=(-0.76, 5.66))
    xs = np.arange(len(G_RATIOS))
    ax.set_xticks(xs)
    ax.set_xticklabels(G_RATIOS, rotation=45, ha='right', rotation_mode='anchor')
    ax.tick_params(axis='x', length=7, width=2, labelsize=15, labelfontfamily=NARROW, pad=3)
    for vals, errs, col in [(tv, te, GREYM), (dv, de, BLUE), (lv, le, RED)]:
        ax.plot(xs, vals, color='black', lw=2.2, zorder=2, clip_on=False)
        ax.errorbar(xs, vals, yerr=errs, fmt='o', color=col, ms=8, elinewidth=2, capsize=4, capthick=2, zorder=3, clip_on=False)
    for i in range(len(xs)):
        if sdy[i] is not None:
            ax.text(xs[i] + 0.05, sdy[i], sd[i], ha='center', va='center', fontsize=14, color=BLUE, family=NF)
        if sty[i] is not None:
            ax.text(xs[i] + 0.05, sty[i], st[i], ha='center', va='center', fontsize=14, color='#666666', family=NF)
    L([113, 263.5], [uly, uly], color='black', lw=2)
    T(193, tly, 'Treg: Teff', ha='center', fontsize=17)
    T(52.7, (rect[1] + rect[3]) / 2, '%Suppression', rotation=90, ha='center', fontsize=16.5, family=SF)
    sup1 = 'DTR-GFP/' + gen
    sup2 = 'LSL/' + gen
    leg_txt = [m_dtr(sup1) + CD4 + ' GFP$^{+}$ ' + ns[0], m_dtr(sup2) + CD4 + ' GFP$^{+}$ ' + ns[1], m_dtr(sup2) + CD4 + ' Thy1.1$^{+}$ ' + ns[2]]
    for yy, col, txt in zip(legy, [BLUE, RED, GREYM], leg_txt):
        L([280, 304], [yy, yy], color='black', lw=2.5)
        MK(292, yy, marker='o', ms=9, color=col, ls='none')
        T(317, yy, txt, fontsize=16.5, sq=0.97)

# ---------------- PANEL h ----------------
letter(692, 1062, 'h')
ax = AX(762.3, 1073.8, 875.6, 1245)
gp(ax, (0, 30), [0, 10, 20, 30], xl=(0.29, 5.59))
ax.spines['bottom'].set_linewidth(2.4)
ax.set_xticks(H_WEEKS)
ax.tick_params(axis='x', length=7, width=2, labelsize=14, labelfontfamily=NARROW)
ax.plot(H_WEEKS, H_LSL, color='black', lw=2.2)
ax.plot(H_WEEKS, H_DTR, color='black', lw=2.2)
ax.errorbar(H_WEEKS, H_LSL, yerr=H_LSL_ERR, fmt='o', color=RED, ms=8, elinewidth=2, capsize=4, capthick=2, zorder=3)
ax.errorbar(H_WEEKS, H_DTR, yerr=H_DTR_ERR, fmt='o', color=BLUE, ms=8, elinewidth=2, capsize=4, capthick=2, zorder=3)
for w, s, y in zip(H_WEEKS, H_SIG, H_SIG_Y):
    ax.text(w, y, s, ha='center', va='center', fontsize=14, family=NF)
T(727, 1159, 'Treg (%CD4 T cell)', rotation=90, ha='center', fontsize=16, family=SF)
T(819, 1282, 'week of experiment', ha='center', fontsize=17.5)

# ---------------- PANEL j ----------------
letter(905, 1062, 'j')
j_specs = [
    ((964.5, 1074.6, 1029.2, 1246), (0, 60), [0, 20, 40, 60], None, J_KI67, 57.5, 61.6, (0.32, 2.64), 925, 'Ki67+ (%Treg)'),
    ((1076, 1074.6, 1139.7, 1246), (0, 5), [0, 1, 2, 3, 4, 5], None, J_GITR, 4.79, 5.13, (0.31, 2.63), 1047, 'GITR MFI (x10$^{4}$)'),
    ((1188.3, 1074.6, 1255.7, 1246), (0, 8), [0, 2, 4, 6, 8], None, J_CTLA4, 7.0, 7.54, (0.27, 2.68), 1160, 'CTLA4 MFI (x10$^{4}$)'),
    ((1306.9, 1074.6, 1374.2, 1246), (0, 2.5), [0, 0.5, 1.0, 1.5, 2.0, 2.5], ['0.0', '0.5', '1.0', '1.5', '2.0', '2.5'], J_ICOS, 2.38, 2.55, (0.28, 2.54), 1271, 'ICOS MFI (x10$^{4}$)'),
]
for k, (rect, yl, yt, ytl, data, sy, ty, xl, labx, lab) in enumerate(j_specs):
    ax = AX(*rect)
    gp(ax, yl, yt, ytl, xl=xl, lsize=12.5)
    ax.set_xticks([])
    dots(ax, 1, data[0], BLUE, ms=8.5, spread=0.08, mw=0.3)
    dots(ax, 2, data[1], RED, ms=8.5, spread=0.08, mw=0.3)
    sigbar(ax, 1, 2, sy, ty, J_SIG[k])
    T(labx, 1160, lab, rotation=90, ha='center', fontsize=16, family=SF)
MK(1401, 1084, marker='o', ms=9, color=BLUE, ls='none')
MK(1401, 1137, marker='o', ms=9, color=RED, ls='none')
T(1414.6, 1084, m_dtr('DTR-GFP/WT'), fontsize=15.5, sq=0.93)
T(1414.6, 1103, CD4, fontsize=15.5, sq=0.93)
T(1414.6, 1137, m_dtr('DTR-GFP/LSL'), fontsize=15.5, sq=0.93)
T(1414.6, 1156, CD4, fontsize=15.5, sq=0.93)

# ---------------- PANEL i ----------------
letter(693, 1325, 'i')
TK4 = [0.085, 0.26, 0.505, 0.735, 0.92]
i_rects = [(771.6, 1353.6, 925.9, 1506.7), (944.4, 1353.6, 1098.8, 1506.7), (1116, 1353.6, 1270.4, 1506.7), (1288.3, 1353.6, 1442.7, 1506.7)]
i_data = [(I_KI67_X, I_KI67_DTR, I_KI67_LSL), (I_GITR_X, I_GITR_DTR, I_GITR_LSL), (I_CTLA4_X, I_CTLA4_DTR, I_CTLA4_LSL), (I_ICOS_X, I_ICOS_DTR, I_ICOS_LSL)]
i_xlab = ['Ki67-AF700 \u27F6', 'GITR-eFluor450\u27F6', 'CTLA4-PE-Cy7\u27F6', 'ICOS-PE \u27F6']
i_xlab_x = [843.4, 1024, 1194, 1359]
for k in range(4):
    hist(i_rects[k], (-3.3, 105.2), i_data[k][0], i_data[k][1], i_data[k][2], HIST_TICKS_4, TK4, k == 0)
    T(i_xlab_x[k], 1548, i_xlab[k], ha='center', fontsize=16.5)
T(727, 1430, 'Normalized to Mode', rotation=90, ha='center', fontsize=16.5, family=SF)
RECT(775, 1326, 791, 1342, color=BLUE, lw=0)
RECT(1006, 1326, 1021, 1342, color=H_RED, lw=0)
T(795, 1334, m_dtr('DTR-GFP/WT') + CD4, fontsize=16)
T(1026, 1334, m_dtr('DTR-GFP/LSL') + CD4, fontsize=16)

fig.savefig('out.png', dpi=100)
